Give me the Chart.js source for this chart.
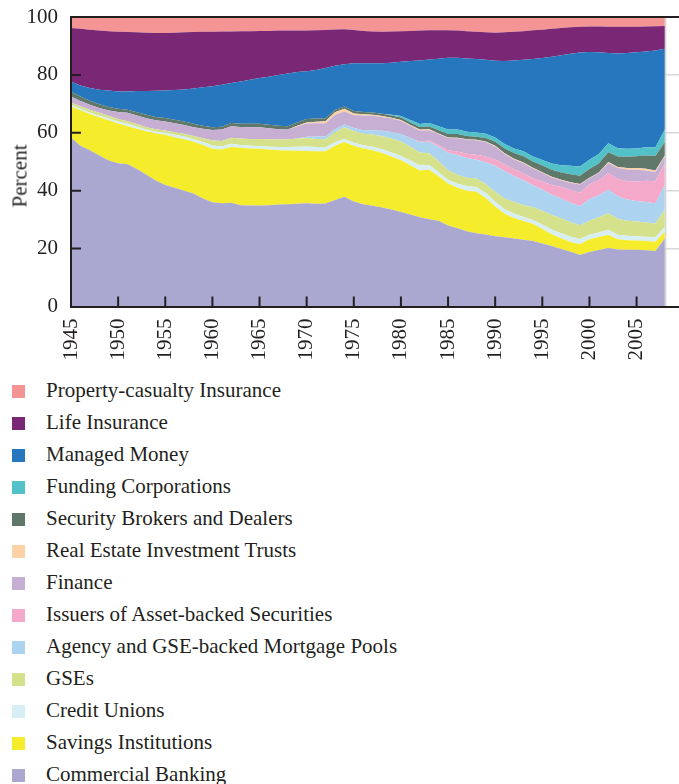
<!DOCTYPE html>
<html>
<head>
<meta charset="utf-8">
<script src="https://cdn.jsdelivr.net/npm/chart.js"></script>
<style>
  html, body { margin: 0; padding: 0; background: #ffffff; }
  body { width: 679px; height: 784px; position: relative; overflow: hidden; font-family: 'Liberation Serif', 'Times New Roman', serif; color: #231f20; }
  #wrap { position: absolute; left: 0; top: 0; width: 679px; height: 370px; }
  #ytitle { position: absolute; left: 20px; top: 176px; transform: translate(-50%, -50%) rotate(-90deg); font-size: 21px; white-space: nowrap; }
  #legend { position: absolute; left: 0; top: 374px; width: 679px; }
  .row { position: absolute; left: 0; height: 32px; width: 679px; }
  .sw { position: absolute; left: 12px; top: 10.5px; width: 13px; height: 13px; }
  .lab { position: absolute; left: 46px; font-size: 21px; line-height: 32px; top: 0; white-space: nowrap; }
</style>
</head>
<body>
<div id="wrap"><canvas id="c" width="679" height="370"></canvas></div>
<div id="ytitle">Percent</div>
<div id="legend"></div>
<script>
// ---- Data (percent of total) ----
const years = [1945,1946,1947,1948,1949,1950,1951,1952,1953,1954,
  1955,1956,1957,1958,1959,1960,1961,1962,1963,1964,
  1965,1966,1967,1968,1969,1970,1971,1972,1973,1974,
  1975,1976,1977,1978,1979,1980,1981,1982,1983,1984,
  1985,1986,1987,1988,1989,1990,1991,1992,1993,1994,
  1995,1996,1997,1998,1999,2000,2001,2002,2003,2004,
  2005,2006,2007,2008];

const seriesNames = ["Commercial Banking","Savings Institutions","Credit Unions","GSEs",
  "Agency and GSE-backed Mortgage Pools","Issuers of Asset-backed Securities","Finance",
  "Real Estate Investment Trusts","Security Brokers and Dealers","Funding Corporations",
  "Managed Money","Life Insurance","Property-casualty Insurance"];

const seriesColors = ["#aaa8d0","#f5ec2b","#d7eef5","#d5e28b","#acd3ef","#f4a9cb","#c7aed3",
  "#fdd2a6","#5f786a","#53c2c8","#2677bd","#7a2875","#f49494"];

const commercialBanking = [58.3,55.5,54.0,52.2,50.4,49.5,49.1,47.5,45.5,43.5,
  42.0,41.0,40.0,39.0,37.3,36.0,35.7,35.8,35.0,34.9,
  34.9,35.0,35.2,35.3,35.5,35.7,35.5,35.6,36.8,37.9,
  36.3,35.3,34.8,34.2,33.5,32.6,31.8,30.8,30.1,29.6,
  28.0,27.0,26.0,25.3,24.9,24.3,23.9,23.5,23.1,22.6,
  21.8,20.9,19.9,18.9,17.8,18.8,19.5,20.2,19.7,19.6,
  19.6,19.4,19.2,23.5];

const savingsInstitutions = [10.8,12.3,12.5,13.2,13.9,13.7,13.2,13.9,15.0,16.3,
  17.3,17.5,17.8,17.9,18.5,18.5,18.5,19.3,19.8,19.7,
  19.6,19.2,18.8,18.6,18.3,18.0,18.1,18.0,18.7,18.9,
  19.2,19.3,19.2,18.8,18.3,17.9,17.0,16.2,17.1,15.4,
  14.5,14.0,14.0,14.3,12.6,10.2,8.1,7.1,6.4,6.0,
  5.0,4.1,3.7,3.4,3.7,4.4,4.5,4.6,3.5,3.3,
  3.2,3.2,3.2,2.3];

const creditUnions = [0.5,0.5,0.5,0.5,0.6,0.7,0.8,0.7,0.6,0.6,
  0.7,0.8,0.9,1.0,1.0,1.1,1.1,1.1,1.0,0.9,
  0.9,1.0,1.1,1.2,1.4,1.6,1.5,1.4,1.2,1.1,
  1.1,1.1,1.2,1.3,1.4,1.5,1.6,1.7,1.7,1.4,
  1.2,1.4,1.6,1.7,1.7,1.7,1.6,1.5,1.4,1.3,
  1.5,1.6,1.7,1.8,1.8,1.6,1.6,1.7,1.6,1.5,
  1.5,1.5,1.5,1.7];

const gses = [0.9,0.9,1.0,1.0,1.0,0.9,0.9,0.9,0.8,0.8,
  0.8,0.9,1.0,1.0,1.3,1.7,1.9,2.1,2.2,2.4,
  2.5,2.6,2.6,2.6,2.8,2.9,2.8,2.8,3.5,4.0,
  4.0,4.0,4.2,4.5,4.8,5.0,4.8,4.5,4.0,3.8,
  3.4,3.1,2.9,2.9,3.1,3.4,3.7,4.0,4.2,4.4,
  4.8,5.0,5.2,5.0,4.8,4.8,5.2,5.7,5.5,5.2,
  5.1,4.9,4.8,6.0];

const agencyPools = [0,0,0,0,0,0,0,0,0,0,
  0,0,0,0,0,0,0,0,0,0,
  0,0,0,0,0,0.4,0.8,0.9,1.0,1.0,
  1.1,1.2,1.5,1.9,2.3,2.6,3.0,3.5,4.0,5.0,
  6.0,6.8,6.8,6.5,7.5,9.0,9.5,9.0,8.5,7.6,
  7.3,7.0,6.8,6.7,6.6,7.5,7.6,8.2,7.8,7.4,
  7.0,7.1,7.0,8.5];

const absIssuers = [0,0,0,0,0,0,0,0,0,0,
  0,0,0,0,0,0,0,0,0,0,
  0,0,0,0,0,0,0,0,0,0,
  0,0,0,0,0,0,0,0.2,0.4,0.6,
  0.9,1.2,1.5,1.7,2.0,2.2,2.3,2.3,2.3,2.4,
  2.8,3.4,4.0,4.4,4.6,5.0,5.3,5.6,5.9,6.3,
  6.8,7.3,7.6,7.5];

const finance = [2.0,1.8,1.7,1.7,1.8,2.4,2.9,3.0,3.1,3.1,
  3.1,3.1,3.0,3.0,3.3,3.7,3.9,4.0,4.0,4.0,
  4.0,3.8,3.5,3.4,4.2,4.6,4.6,4.6,5.0,4.5,
  4.4,5.1,5.0,4.8,4.6,4.5,4.2,3.9,3.6,3.8,
  4.2,4.6,4.8,5.0,5.0,4.5,3.6,3.4,3.6,3.4,
  3.0,2.6,2.3,2.5,2.8,2.2,2.4,3.6,3.8,4.0,
  4.0,3.6,3.2,2.4];

const reits = [0,0,0,0,0,0,0,0,0,0,
  0,0,0,0,0,0,0,0,0,0,
  0,0,0,0,0.2,0.4,0.5,0.7,0.9,0.9,
  0.6,0.4,0.3,0.3,0.3,0.3,0.3,0.3,0.3,0.2,
  0.2,0.2,0.2,0.2,0.2,0.2,0.2,0.2,0.2,0.2,
  0.2,0.2,0.2,0.2,0.2,0.2,0.2,0.3,0.4,0.5,
  0.6,0.6,0.5,0.3];

const brokersDealers = [1.7,1.5,1.4,1.3,1.2,1.1,1.1,1.1,1.2,1.2,
  1.2,1.2,1.2,1.2,1.0,0.9,1.0,1.1,1.1,1.2,
  1.2,1.2,1.2,1.2,1.2,1.2,1.1,1.0,0.8,0.8,
  0.8,0.8,0.8,0.8,0.8,0.9,0.9,0.9,1.0,1.1,
  1.2,1.3,1.1,1.0,1.2,1.4,1.7,2.0,2.2,2.2,
  2.3,2.4,2.5,2.8,2.9,3.0,3.2,3.4,3.6,3.9,
  4.1,4.6,5.0,4.6];

const fundingCorps = [0,0,0,0,0,0,0,0,0,0,
  0,0,0,0,0,0,0,0,0,0,
  0,0,0,0,0,0,0,0,0,0,
  0,0,0,0,0.2,0.5,0.8,1.0,1.2,1.4,
  1.5,1.5,1.5,1.5,1.5,1.5,1.5,1.6,1.7,1.7,
  1.9,2.2,2.5,2.9,3.2,3.2,3.2,3.1,2.9,2.8,
  2.7,2.8,2.9,4.3];

const managedMoney = [3.5,3.8,4.4,5.0,5.7,6.0,6.3,7.3,8.2,9.0,
  9.5,10.3,11.1,12.2,13.3,14.2,14.5,13.8,14.6,15.2,
  15.8,16.6,17.6,18.2,17.4,16.5,16.8,17.4,15.3,14.6,
  16.5,16.8,17.0,17.4,18.0,18.7,20.4,22.0,21.9,23.3,
  24.8,24.8,25.3,25.4,25.5,26.5,28.7,30.4,31.6,33.7,
  35.2,36.9,38.0,38.7,39.3,37.2,35.1,31.2,32.7,33.1,
  33.2,33.1,33.5,27.9];

const lifeInsurance = [18.5,19.6,20.1,20.4,20.5,20.6,20.5,20.3,20.2,20.0,
  19.9,19.8,19.7,19.5,19.2,18.8,18.4,17.8,17.4,16.8,
  16.3,15.8,15.3,14.8,14.3,14.0,13.7,13.1,12.5,12.1,
  11.5,11.2,11.0,10.9,10.8,10.6,10.4,10.3,10.1,9.8,
  9.5,9.4,9.4,9.4,9.5,9.7,9.9,9.9,9.9,9.9,
  9.8,9.6,9.4,9.2,8.9,8.8,8.9,9.0,9.2,9.0,
  8.8,8.6,8.4,7.9];

const propertyCasualty = [3.8,4.1,4.4,4.7,4.9,5.1,5.2,5.3,5.4,5.5,
  5.5,5.4,5.3,5.2,5.1,5.1,5.0,5.0,4.9,4.9,
  4.8,4.8,4.7,4.7,4.7,4.7,4.6,4.5,4.3,4.2,
  4.5,4.8,5.0,5.1,5.0,4.9,4.8,4.7,4.6,4.6,
  4.6,4.7,4.9,5.1,5.3,5.4,5.3,5.1,4.9,4.6,
  4.4,4.1,3.8,3.5,3.4,3.3,3.3,3.4,3.4,3.4,
  3.4,3.3,3.2,3.1];

const xTickStep = 5;
const yTickStep = 20;

// stacking order: bottom first
const seriesValues = [commercialBanking, savingsInstitutions, creditUnions, gses, agencyPools,
  absIssuers, finance, reits, brokersDealers, fundingCorps, managedMoney, lifeInsurance, propertyCasualty];

const INK = '#231f20';
const FONT = "'Liberation Serif', 'Times New Roman', serif";

const datasets = seriesValues.map((vals, i) => ({
  label: seriesNames[i],
  data: vals.map((v, j) => ({ x: years[j], y: v })),
  backgroundColor: seriesColors[i],
  borderColor: seriesColors[i],
  borderWidth: 0,
  pointRadius: 0,
  pointHoverRadius: 0,
  tension: 0,
  fill: i === 0 ? 'origin' : '-1'
}));

const CANVAS_H = 370;
const PLOT_LEFT = 71;
const PLOT_BOTTOM = 306.5;

const frameAndTicks = {
  id: 'frameAndTicks',
  beforeDatasetsDraw(chart) {
    const { ctx, chartArea: { top, bottom }, scales: { x } } = chart;
    const px = x.getPixelForValue(years[years.length - 1]);
    ctx.save();
    ctx.strokeStyle = '#d4d4d4';
    ctx.lineWidth = 1.5;
    ctx.beginPath();
    ctx.moveTo(px + 0.75, top);
    ctx.lineTo(px + 0.75, bottom);
    ctx.stroke();
    ctx.restore();
  },
  afterDatasetsDraw(chart) {
    const { ctx, chartArea: { left, right, top, bottom }, scales: { x, y } } = chart;
    ctx.save();
    ctx.strokeStyle = INK;
    ctx.lineWidth = 2;
    ctx.beginPath();
    x.ticks.forEach(t => {
      const p = x.getPixelForValue(t.value);
      if (p - left < 4) return;
      ctx.moveTo(p, bottom);
      ctx.lineTo(p, bottom - 10);
    });
    y.ticks.forEach(t => {
      if (t.value <= y.min || t.value >= y.max) return;
      const p = y.getPixelForValue(t.value);
      ctx.moveTo(left, p);
      ctx.lineTo(left + 10, p);
    });
    ctx.stroke();
    ctx.beginPath();
    ctx.moveTo(left - 1, top);
    ctx.lineTo(right, top);
    ctx.stroke();
    ctx.restore();
  }
};

new Chart(document.getElementById('c'), {
  type: 'line',
  data: { datasets },
  plugins: [frameAndTicks],
  options: {
    responsive: false,
    devicePixelRatio: 1,
    animation: false,
    layout: { padding: { top: 17, right: 0, bottom: 0, left: 0 } },
    plugins: { legend: { display: false }, tooltip: { enabled: false } },
    elements: { line: { borderWidth: 0 } },
    scales: {
      x: {
        type: 'linear',
        min: years[0],
        max: 2009.5,
        grid: { display: true, drawOnChartArea: false, drawTicks: false },
        border: { display: true, color: INK, width: 2, z: 1 },
        ticks: {
          stepSize: xTickStep,
          autoSkip: false,
          includeBounds: false,
          minRotation: 90,
          maxRotation: 90,
          padding: 12,
          color: INK,
          font: { family: FONT, size: 21 },
          callback: v => String(v)
        },
        afterFit(scale) {
          scale.height = CANVAS_H - PLOT_BOTTOM;
          scale.paddingLeft = 0;
          scale.paddingRight = 0;
        }
      },
      y: {
        type: 'linear',
        stacked: true,
        min: 0,
        max: 100,
        grid: { color: '#d9d9d9', lineWidth: 1.5, drawTicks: false },
        border: { display: true, color: INK, width: 2, z: 1 },
        ticks: {
          stepSize: yTickStep,
          padding: 13,
          color: INK,
          font: { family: FONT, size: 21 }
        },
        afterFit(scale) {
          scale.width = PLOT_LEFT;
          scale.paddingTop = 0;
          scale.paddingBottom = 0;
        }
      }
    }
  }
});

// HTML legend (top series first, as in the reference)
const legend = document.getElementById('legend');
for (let k = seriesNames.length - 1, row = 0; k >= 0; k--, row++) {
  const r = document.createElement('div');
  r.className = 'row';
  r.style.top = (row * 32) + 'px';
  const sw = document.createElement('div');
  sw.className = 'sw';
  sw.style.background = seriesColors[k];
  const lab = document.createElement('div');
  lab.className = 'lab';
  lab.textContent = seriesNames[k];
  r.appendChild(sw);
  r.appendChild(lab);
  legend.appendChild(r);
}
</script>
</body>
</html>
